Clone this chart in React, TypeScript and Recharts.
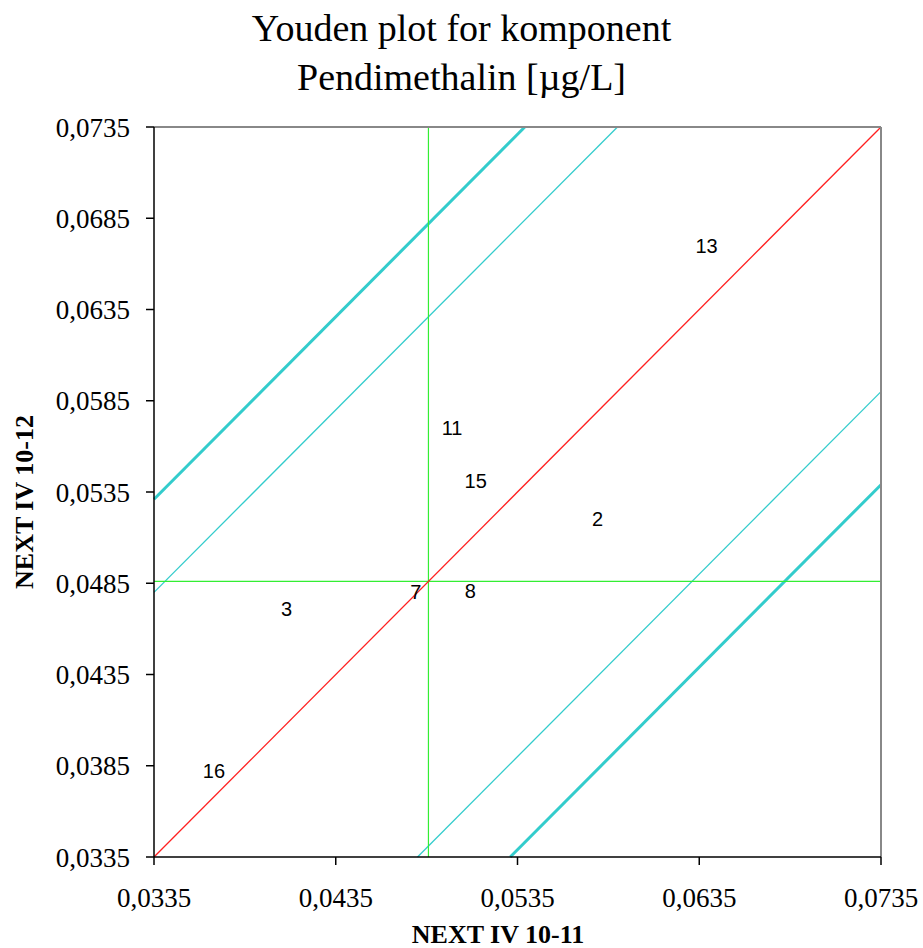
import React from 'react';
import { ScatterChart, Scatter, XAxis, YAxis, ReferenceLine, Label } from 'recharts';

// lab results: sample 10-11 (x) vs sample 10-12 (y)
const labIds = ['13', '11', '15', '2', '7', '8', '3', '16'];
const resultsX = [0.0639, 0.0499, 0.0512, 0.0579, 0.0479, 0.0509, 0.0408, 0.0368];
const resultsY = [0.067, 0.057, 0.0541, 0.052, 0.048, 0.0481, 0.0471, 0.0382];

const xTicks = [0.0335, 0.0435, 0.0535, 0.0635, 0.0735];
const yTicks = [0.0335, 0.0385, 0.0435, 0.0485, 0.0535, 0.0585, 0.0635, 0.0685, 0.0735];

const median = 0.0486;
// offsets of the tolerance bands from the 45° line
const innerBand = 0.0145;
const outerBand = 0.0196;

const LO = 0.0335;
const HI = 0.0735;

const points = labIds.map((id, i) => ({ id, x: resultsX[i], y: resultsY[i] }));

// y = x + k, clipped to the square domain
const diag = (k: number) => {
  const x0 = Math.max(LO, LO - k);
  const x1 = Math.min(HI, HI - k);
  return [
    { x: x0, y: x0 + k },
    { x: x1, y: x1 + k },
  ];
};

const fmt = (v: number) => v.toFixed(4).replace('.', ',');

const serif = '"Liberation Serif", "Times New Roman", serif';

const LabLabel = (props: any) => (
  <text
    x={props.cx}
    y={props.cy}
    textAnchor="middle"
    dominantBaseline="central"
    fontFamily='"Liberation Sans", Arial, sans-serif'
    fontSize={20}
    fill="#000"
  >
    {props.payload.id}
  </text>
);

export default function App() {
  return (
    <div style={{ position: 'absolute', left: 0, top: 0, width: 923, height: 948, background: '#fff' }}>
      <div
        style={{
          position: 'absolute',
          left: 0,
          top: 4,
          width: 923,
          textAlign: 'center',
          fontFamily: serif,
          fontSize: 38,
          lineHeight: '49px',
          color: '#000',
        }}
      >
        Youden plot for komponent
        <br />
        Pendimethalin [µg/L]
      </div>
      <ScatterChart width={923} height={948} margin={{ top: 127, right: 42, bottom: 0, left: 0 }}>
        <XAxis
          type="number"
          dataKey="x"
          domain={[LO, HI]}
          ticks={xTicks}
          tickFormatter={fmt}
          allowDataOverflow
          height={91}
          tickSize={8}
          tickMargin={23}
          axisLine={{ stroke: '#000', strokeWidth: 1.5 }}
          tickLine={{ stroke: '#000', strokeWidth: 1.5 }}
          tick={{ fill: '#000', fontSize: 27, fontFamily: serif }}
        >
          <Label
            content={() => (
              <text x={498} y={943} textAnchor="middle" fontFamily={serif} fontWeight="bold" fontSize={26} fill="#000">
                NEXT IV 10-11
              </text>
            )}
          />
        </XAxis>
        <YAxis
          type="number"
          dataKey="y"
          domain={[LO, HI]}
          ticks={yTicks}
          tickFormatter={fmt}
          allowDataOverflow
          width={154}
          tickSize={8}
          tickMargin={16}
          axisLine={{ stroke: '#000', strokeWidth: 1.5 }}
          tickLine={{ stroke: '#000', strokeWidth: 1.5 }}
          tick={{ fill: '#000', fontSize: 27, fontFamily: serif }}
        >
          <Label
            content={() => (
              <text
                x={24}
                y={502}
                transform="rotate(-90 24 502)"
                textAnchor="middle"
                dominantBaseline="central"
                fontFamily={serif}
                fontWeight="bold"
                fontSize={26}
                fill="#000"
              >
                NEXT IV 10-12
              </text>
            )}
          />
        </YAxis>

        <ReferenceLine segment={diag(outerBand)} stroke="#33cccc" strokeWidth={3} ifOverflow="visible" />
        <ReferenceLine segment={diag(innerBand)} stroke="#33cccc" strokeWidth={1.3} ifOverflow="visible" />
        <ReferenceLine segment={diag(-innerBand)} stroke="#33cccc" strokeWidth={1.3} ifOverflow="visible" />
        <ReferenceLine segment={diag(-outerBand)} stroke="#33cccc" strokeWidth={3} ifOverflow="visible" />
        <ReferenceLine x={median} stroke="#33ee33" strokeWidth={1.2} />
        <ReferenceLine y={median} stroke="#33ee33" strokeWidth={1.2} />
        <ReferenceLine segment={diag(0)} stroke="#ff2020" strokeWidth={1.3} ifOverflow="visible" />
        <ReferenceLine y={HI} stroke="#888" strokeWidth={2} />
        <ReferenceLine x={HI} stroke="#888" strokeWidth={2} />

        <Scatter data={points} shape={LabLabel} isAnimationActive={false} />
      </ScatterChart>
    </div>
  );
}
